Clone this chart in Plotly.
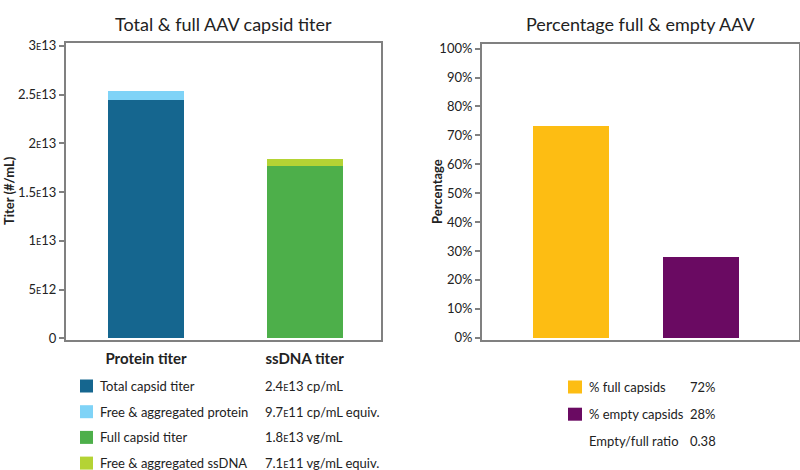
import plotly.graph_objects as go

# ---------------- data ----------------
left_categories = ["Protein titer", "ssDNA titer"]
total_capsid = [2.44e13, None]
free_protein = [9.7e11, None]
full_capsid = [None, 1.77e13]
free_ssdna = [None, 7.1e11]

right_categories = ["% full capsids", "% empty capsids"]
right_values = [73.4, 27.8]

left_tickvals = [0, 5e12, 1e13, 1.5e13, 2e13, 2.5e13, 3e13]
left_ticktext = ["0", "5|12", "1|13", "1.5|13", "2|13", "2.5|13", "3|13"]
right_tickvals = [0, 10, 20, 30, 40, 50, 60, 70, 80, 90, 100]

left_legend_labels = ["Total capsid titer", "Free & aggregated protein",
                      "Full capsid titer", "Free & aggregated ssDNA"]
left_legend_values = ["2.4|13 cp/mL", "9.7|11 cp/mL equiv.",
                      "1.8|13 vg/mL", "7.1|11 vg/mL equiv."]
right_legend_labels = ["% full capsids", "% empty capsids", "Empty/full ratio"]
right_legend_values = ["72%", "28%", "0.38"]

C_DARKBLUE = "#15668f"
C_LIGHTBLUE = "#7fd3f7"
C_GREEN = "#4daf4a"
C_LIGHTGREEN = "#b4d334"
C_YELLOW = "#fdbd13"
C_PURPLE = "#6a0a62"
left_colors = [C_DARKBLUE, C_LIGHTBLUE, C_GREEN, C_LIGHTGREEN]
right_colors = [C_YELLOW, C_PURPLE, None]

FONT = "Lato"
TXT = "#222222"
GRAY = "#808080"
W, H = 800, 470


def sci(s):
    return s.replace("|", "<span style='font-size:9px'>E</span>")


def px(x):
    return x / W


def py(y):
    return 1 - y / H


fig = go.Figure()

for name, vals, col in zip(left_legend_labels,
                           [total_capsid, free_protein, full_capsid, free_ssdna],
                           left_colors):
    fig.add_trace(go.Bar(x=left_categories, y=vals, name=name, marker_color=col,
                         marker_line_width=0, width=0.48, xaxis="x", yaxis="y",
                         showlegend=False))

fig.add_trace(go.Bar(x=right_categories, y=right_values, marker_color=right_colors[:2],
                     marker_line_width=0, width=0.585, xaxis="x2", yaxis="y2",
                     showlegend=False))

axis_common = dict(showline=True, linecolor=GRAY, linewidth=2, mirror=True,
                   showgrid=False, zeroline=False, automargin=False)

fig.update_layout(
    width=W, height=H, margin=dict(l=0, r=0, t=0, b=0, pad=0, autoexpand=False),
    paper_bgcolor="white", plot_bgcolor="white",
    barmode="stack", bargap=0,
    font=dict(family=FONT, color=TXT, size=13),
    xaxis=dict(domain=[px(66), px(381)], anchor="y", range=[-0.505, 1.482],
               ticks="", tickmode="array", tickvals=left_categories,
               ticktext=["<b>%s</b>" % c for c in left_categories],
               tickfont=dict(size=15, color=TXT),
               ticklabelstandoff=4, **axis_common),
    yaxis=dict(domain=[py(340), py(43)], anchor="x", range=[-0.17e12, 30.29e12],
               tickvals=left_tickvals, ticktext=[sci(t) for t in left_ticktext],
               ticks="outside", ticklen=5, tickcolor=GRAY, tickwidth=1.5,
               tickfont=dict(size=13, color=TXT), **axis_common),
    xaxis2=dict(domain=[px(482), px(799)], anchor="y2", range=[-0.685, 1.754],
                showticklabels=False, ticks="", **axis_common),
    yaxis2=dict(domain=[py(340), py(44)], anchor="x2", range=[-0.8, 101.6],
                tickvals=right_tickvals, ticktext=["%d%%" % v for v in right_tickvals],
                ticks="outside", ticklen=5, tickcolor=GRAY, tickwidth=1.5,
                tickfont=dict(size=13, color=TXT), **axis_common),
)

ann = []
# titles
ann.append(dict(text="Total & full AAV capsid titer", x=px(223.5), y=py(24),
                font=dict(size=18, color=TXT)))
ann.append(dict(text="Percentage full & empty AAV", x=px(640.5), y=py(24),
                font=dict(size=18, color=TXT)))
# axis titles
ann.append(dict(text="<b>Titer (#/mL)</b>", x=px(9), y=py(191), textangle=-90,
                font=dict(size=13, color=TXT)))
ann.append(dict(text="<b>Percentage</b>", x=px(437), y=py(192), textangle=-90,
                font=dict(size=13, color=TXT)))

shapes = []
# left legend
for i, (lab, val, col) in enumerate(zip(left_legend_labels, left_legend_values, left_colors)):
    yc = 386 + i * 25.7
    shapes.append(dict(type="rect", xref="paper", yref="paper",
                       x0=px(80), x1=px(93), y0=py(yc - 6.5), y1=py(yc + 6.5),
                       fillcolor=col, line_width=0))
    ann.append(dict(text=lab, x=px(98), y=py(yc), xanchor="left",
                    font=dict(size=13, color=TXT)))
    ann.append(dict(text=sci(val), x=px(263), y=py(yc), xanchor="left",
                    font=dict(size=13, color=TXT)))
# right legend
for i, (lab, val, col) in enumerate(zip(right_legend_labels, right_legend_values, right_colors)):
    yc = 387 + i * 27.2
    if col:
        shapes.append(dict(type="rect", xref="paper", yref="paper",
                           x0=px(568), x1=px(582), y0=py(yc - 6.5), y1=py(yc + 6.5),
                           fillcolor=col, line_width=0))
    ann.append(dict(text=lab, x=px(587), y=py(yc), xanchor="left",
                    font=dict(size=13, color=TXT)))
    ann.append(dict(text=val, x=px(688), y=py(yc), xanchor="left",
                    font=dict(size=13, color=TXT)))

for a in ann:
    a.setdefault("xref", "paper")
    a.setdefault("yref", "paper")
    a.setdefault("showarrow", False)
    a.setdefault("yanchor", "middle")
    a.setdefault("xanchor", "center")

fig.update_layout(annotations=ann, shapes=shapes)
fig.write_html("out.html", config={"displayModeBar": False},
               post_script="document.body.style.margin='0';document.body.style.overflow='hidden';")
